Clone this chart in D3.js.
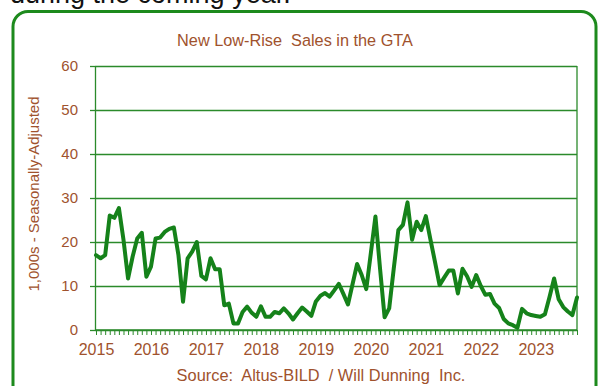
<!DOCTYPE html>
<html><head><meta charset="utf-8">
<script src="https://cdn.jsdelivr.net/npm/d3@7"></script>
<style>
body{margin:0;background:#fff;overflow:hidden;}
svg{display:block;font-family:"Liberation Sans",Arial,sans-serif;}
</style>
</head><body>
<svg id="c" width="599" height="386"></svg>
<script>
// ---- data ----
const titleText = "New Low-Rise  Sales in the GTA";
const yAxisTitle = "1,000s - Seasonally-Adjusted";
const sourceText = "Source:  Altus-BILD  / Will Dunning  Inc.";
const headerText = "during the coming year.";
const yearLabels = ["2015","2016","2017","2018","2019","2020","2021","2022","2023"];
const yTicks = [0,10,20,30,40,50,60];
// monthly, Jan 2015 .. Oct 2023 (thousands, SA)
const sales = [
 17.0,16.3,17.0,26.0,25.5,27.7,20.5,11.7,16.7,20.8,
 22.1,12.1,14.4,20.8,21.0,22.3,23.0,23.3,17.0,6.4,
 16.3,17.8,20.0,12.3,11.5,16.3,13.8,13.8,5.6,6.0,
 1.5,1.5,4.1,5.3,3.9,3.0,5.4,3.0,3.0,4.1,
 3.8,4.9,3.8,2.4,3.8,5.1,4.2,3.2,6.5,7.8,
 8.4,7.6,9.0,10.5,8.2,5.8,10.4,15.0,12.5,9.3,
 17.5,25.8,14.0,2.9,4.9,14.0,22.7,23.9,29.0,20.5,
 24.6,22.7,25.9,20.6,15.5,10.2,11.9,13.5,13.5,8.3,
 13.9,12.2,9.8,12.5,10.0,8.0,8.2,6.0,5.0,2.5,
 1.5,1.1,0.5,4.8,3.8,3.4,3.2,3.0,3.6,7.5,
 11.7,7.0,5.2,4.2,3.4,7.4
];

// ---- drawing ----
const svg = d3.select("#c");
const brown = "#a0522d";
const gridGreen = "#2b8a2b";
const lineGreen = "#15821a";

// header text (cut off at top, as in the source page)
svg.append("text").attr("x",10).attr("y",3)
  .attr("font-size",27).attr("fill","#111").text(headerText);

// outer frame
svg.append("rect").attr("x",13).attr("y",11.5).attr("width",583).attr("height",390)
  .attr("rx",15).attr("fill","none").attr("stroke","#1d8a1d").attr("stroke-width",3);

const x = d3.scaleLinear().domain([0, sales.length-1]).range([96,577]);
const y = d3.scaleLinear().domain([0,60]).range([330,66]);

// gridlines
const grid = svg.append("g").attr("transform","translate(95,0)")
  .call(d3.axisLeft(y).tickValues(yTicks).tickSize(-482).tickFormat(""));
grid.select(".domain").remove();
grid.selectAll("line").attr("stroke",gridGreen).attr("stroke-width",1.3);

// plot border (right)
svg.append("line").attr("x1",577).attr("x2",577).attr("y1",66).attr("y2",330)
  .attr("stroke",gridGreen).attr("stroke-width",1.3);

// y axis
const ya = svg.append("g").attr("transform","translate(95,0)")
  .call(d3.axisLeft(y).tickValues(yTicks).tickSizeInner(5).tickSizeOuter(0).tickPadding(12));
ya.select(".domain").attr("stroke",gridGreen).attr("stroke-width",1.3);
ya.selectAll("line").attr("stroke",gridGreen).attr("stroke-width",1.3);
ya.selectAll("text").attr("fill",brown).attr("font-size",15).attr("font-family","Liberation Sans, Arial, sans-serif");

// x axis minor ticks (monthly)
const monthIdx = d3.range(0, sales.length);
const xa = svg.append("g").attr("transform","translate(0,330)")
  .call(d3.axisBottom(x).tickValues(monthIdx).tickSizeInner(5).tickSizeOuter(0).tickFormat(""));
xa.select(".domain").attr("stroke",gridGreen).attr("stroke-width",1.3).attr("d","M95,0H577");
xa.selectAll("line").attr("stroke",gridGreen).attr("stroke-width",1);

// x axis year labels
const xl = svg.append("g").attr("transform","translate(0,330)")
  .call(d3.axisBottom(x).tickValues(yearLabels.map((d,i)=>i*12)).tickSize(0).tickPadding(13.5)
    .tickFormat((d,i)=>yearLabels[i]));
xl.select(".domain").remove();
xl.selectAll("text").attr("fill",brown).attr("font-size",16).attr("font-family","Liberation Sans, Arial, sans-serif");

// line
svg.append("path").datum(sales)
  .attr("fill","none").attr("stroke",lineGreen).attr("stroke-width",4)
  .attr("stroke-linejoin","round").attr("stroke-linecap","round")
  .attr("d", d3.line().x((d,i)=>x(i)).y(d=>y(d)));

// titles
svg.append("text").attr("x",295).attr("y",46).attr("text-anchor","middle")
  .attr("font-size",16.3).attr("fill",brown).style("white-space","pre").text(titleText);
svg.append("text").attr("transform","translate(39,194) rotate(-90)").attr("text-anchor","middle")
  .attr("font-size",15).attr("fill",brown).text(yAxisTitle);
svg.append("text").attr("x",321).attr("y",381).attr("text-anchor","middle")
  .attr("font-size",16.4).attr("fill",brown).style("white-space","pre").text(sourceText);
</script>
</body></html>
